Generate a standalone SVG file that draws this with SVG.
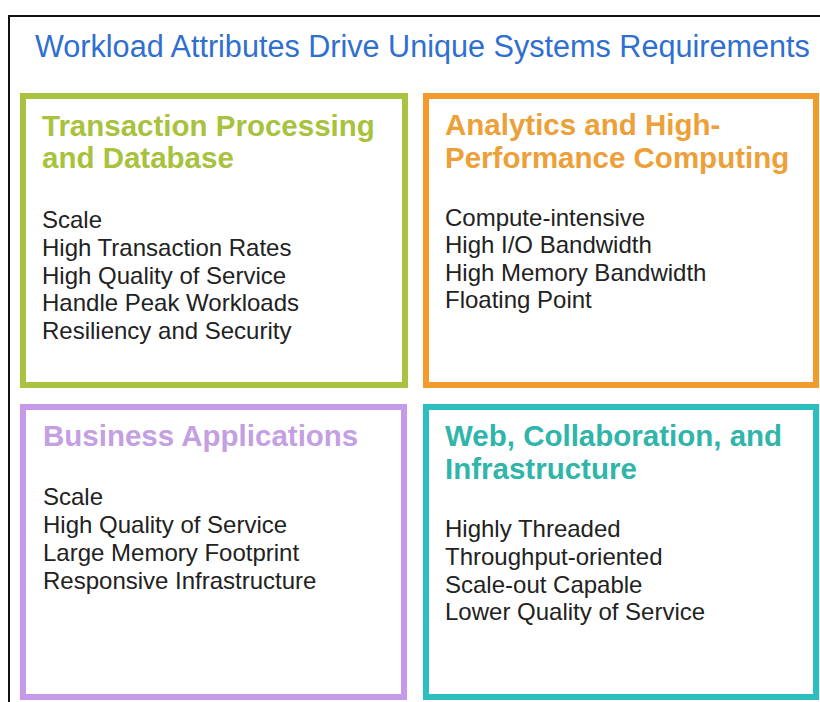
<svg xmlns="http://www.w3.org/2000/svg" width="820" height="702" viewBox="0 0 820 702">
<style>
.frame{fill:none;stroke:#111;stroke-width:2}
.box{fill:#fff;stroke-width:6}
.title{font-family:"Liberation Sans",Arial,sans-serif;font-size:30.6px;fill:#2f6fcf}
.head{font-family:"Liberation Sans",Arial,sans-serif;font-size:29.5px;font-weight:bold}
.body{font-family:"Liberation Sans",Arial,sans-serif;font-size:24px;fill:#222}
</style>
<rect x="0" y="0" width="820" height="702" fill="#fff"/>
<rect class="frame" x="9" y="16" width="900" height="900"/>
<text class="title" x="35" y="57">Workload Attributes Drive Unique Systems Requirements</text>
<g id="transaction">
<rect class="box" x="23" y="96" width="382" height="289" stroke="#a9c23f"/>
<text class="head" fill="#a8c23e"><tspan x="42" y="136">Transaction Processing</tspan><tspan x="42" y="168">and Database</tspan></text>
<text class="body"><tspan x="42" y="228">Scale</tspan><tspan x="42" y="256">High Transaction Rates</tspan><tspan x="42" y="284">High Quality of Service</tspan><tspan x="42" y="311">Handle Peak Workloads</tspan><tspan x="42" y="339">Resiliency and Security</tspan></text>
</g>
<g id="analytics">
<rect class="box" x="426" y="96" width="390" height="289" stroke="#f39a2c"/>
<text class="head" fill="#eda038"><tspan x="445" y="135">Analytics and High-</tspan><tspan x="445" y="168">Performance Computing</tspan></text>
<text class="body"><tspan x="445" y="226">Compute-intensive</tspan><tspan x="445" y="253">High I/O Bandwidth</tspan><tspan x="445" y="281">High Memory Bandwidth</tspan><tspan x="445" y="308">Floating Point</tspan></text>
</g>
<g id="business">
<rect class="box" x="23" y="407" width="381" height="290" stroke="#c49ae8"/>
<text class="head" fill="#c3a0e2"><tspan x="43" y="446">Business Applications</tspan></text>
<text class="body"><tspan x="43" y="505">Scale</tspan><tspan x="43" y="533">High Quality of Service</tspan><tspan x="43" y="561">Large Memory Footprint</tspan><tspan x="43" y="589">Responsive Infrastructure</tspan></text>
</g>
<g id="web">
<rect class="box" x="426" y="407" width="390" height="290" stroke="#2dbfc0"/>
<text class="head" fill="#2fb5a9"><tspan x="445" y="446">Web, Collaboration, and</tspan><tspan x="445" y="479">Infrastructure</tspan></text>
<text class="body"><tspan x="445" y="537">Highly Threaded</tspan><tspan x="445" y="565">Throughput-oriented</tspan><tspan x="445" y="593">Scale-out Capable</tspan><tspan x="445" y="620">Lower Quality of Service</tspan></text>
</g>
<g id="connectors"></g>
</svg>
